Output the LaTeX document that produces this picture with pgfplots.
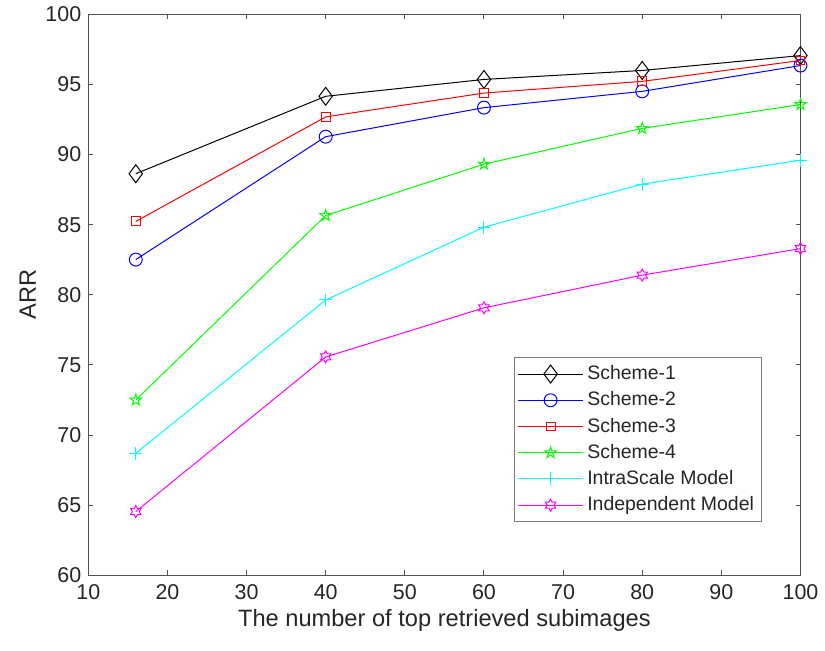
\documentclass[border=0pt]{standalone}
\usepackage{pgfplots}
\pgfplotsset{compat=1.18}
\usepackage{fontspec}
\setmainfont{Liberation Sans}
\definecolor{axc}{rgb}{0.15,0.15,0.15}
\definecolor{mblack}{rgb}{0,0,0}
\definecolor{mblue}{rgb}{0,0,1}
\definecolor{mred}{rgb}{1,0,0}
\definecolor{mgreen}{rgb}{0,1,0}
\definecolor{mcyan}{rgb}{0,1,1}
\definecolor{mmagenta}{rgb}{1,0,1}
\pgfdeclareplotmark{pentagram}{%
  \pgfpathmoveto{\pgfpointpolar{90}{\pgfplotmarksize}}%
  \pgfpathlineto{\pgfpointpolar{126}{0.382\pgfplotmarksize}}%
  \pgfpathlineto{\pgfpointpolar{162}{\pgfplotmarksize}}%
  \pgfpathlineto{\pgfpointpolar{198}{0.382\pgfplotmarksize}}%
  \pgfpathlineto{\pgfpointpolar{234}{\pgfplotmarksize}}%
  \pgfpathlineto{\pgfpointpolar{270}{0.382\pgfplotmarksize}}%
  \pgfpathlineto{\pgfpointpolar{306}{\pgfplotmarksize}}%
  \pgfpathlineto{\pgfpointpolar{342}{0.382\pgfplotmarksize}}%
  \pgfpathlineto{\pgfpointpolar{18}{\pgfplotmarksize}}%
  \pgfpathlineto{\pgfpointpolar{54}{0.382\pgfplotmarksize}}%
  \pgfpathclose\pgfusepathqstroke}
\pgfdeclareplotmark{hexagram}{%
  \pgfpathmoveto{\pgfpointpolar{90}{\pgfplotmarksize}}%
  \pgfpathlineto{\pgfpointpolar{120}{0.577\pgfplotmarksize}}%
  \pgfpathlineto{\pgfpointpolar{150}{\pgfplotmarksize}}%
  \pgfpathlineto{\pgfpointpolar{180}{0.577\pgfplotmarksize}}%
  \pgfpathlineto{\pgfpointpolar{210}{\pgfplotmarksize}}%
  \pgfpathlineto{\pgfpointpolar{240}{0.577\pgfplotmarksize}}%
  \pgfpathlineto{\pgfpointpolar{270}{\pgfplotmarksize}}%
  \pgfpathlineto{\pgfpointpolar{300}{0.577\pgfplotmarksize}}%
  \pgfpathlineto{\pgfpointpolar{330}{\pgfplotmarksize}}%
  \pgfpathlineto{\pgfpointpolar{0}{0.577\pgfplotmarksize}}%
  \pgfpathlineto{\pgfpointpolar{30}{\pgfplotmarksize}}%
  \pgfpathlineto{\pgfpointpolar{60}{0.577\pgfplotmarksize}}%
  \pgfpathclose\pgfusepathqstroke}
\begin{document}
\begin{tikzpicture}
\begin{axis}[
  scale only axis,
  width=358.5pt, height=282.5pt,
  xmin=10, xmax=100, ymin=60, ymax=100,
  xtick={10,20,...,100}, ytick={60,65,...,100},
  tick align=inside, major tick length=2.5pt,
  axis line style={axc!80, line width=0.5pt},
  tick style={axc!80, line width=0.5pt},
  every tick label/.append style={font=\fontsize{10.8}{12}\selectfont, text=axc},
  xticklabel style={yshift=-1pt},
  /pgf/number format/assume math mode=true,
  xlabel={The number of top retrieved subimages},
  ylabel={ARR},
  label style={font=\fontsize{11.9}{13}\selectfont, text=axc},
  xlabel style={yshift=2pt},
  ylabel style={yshift=-2pt},
  clip=false,
  legend style={at={(0.946,0.0956)}, anchor=south east, draw=axc!60, line width=0.5pt,
    font=\fontsize{9.8}{11}\selectfont, text=axc, row sep=0.6pt, inner sep=1.8pt},
  legend cell align=left,
  legend image code/.code={%
    \draw[mark repeat=2,mark phase=2] plot coordinates {(0cm,0cm) (0.57cm,0cm) (1.14cm,0cm)};},
  every axis plot/.append style={line width=0.5pt, mark options={solid, line width=0.5pt}},
]
\path (rel axis cs:-0.124,-0.1345) rectangle (rel axis cs:1.0265,1.021);
\addplot[mblack, mark=diamond, mark size=4.5pt] coordinates {(16,88.63) (40,94.15) (60,95.35) (80,95.99) (100,97.05)};
\addlegendentry{Scheme-1}
\addplot[mblue, mark=o, mark size=3.25pt] coordinates {(16,82.51) (40,91.27) (60,93.34) (80,94.50) (100,96.34)};
\addlegendentry{Scheme-2}
\addplot[mred, mark=square, mark size=2.25pt] coordinates {(16,85.23) (40,92.68) (60,94.38) (80,95.21) (100,96.70)};
\addlegendentry{Scheme-3}
\addplot[mgreen, mark=pentagram, mark size=3pt] coordinates {(16,72.50) (40,85.65) (60,89.31) (80,91.86) (100,93.56)};
\addlegendentry{Scheme-4}
\addplot[mcyan, mark=+, mark size=3.25pt] coordinates {(16,68.70) (40,79.63) (60,84.82) (80,87.89) (100,89.59)};
\addlegendentry{IntraScale Model}
\addplot[mmagenta, mark=hexagram, mark size=3pt] coordinates {(16,64.55) (40,75.57) (60,79.07) (80,81.40) (100,83.29)};
\addlegendentry{Independent Model}
\end{axis}
\end{tikzpicture}
\end{document}
